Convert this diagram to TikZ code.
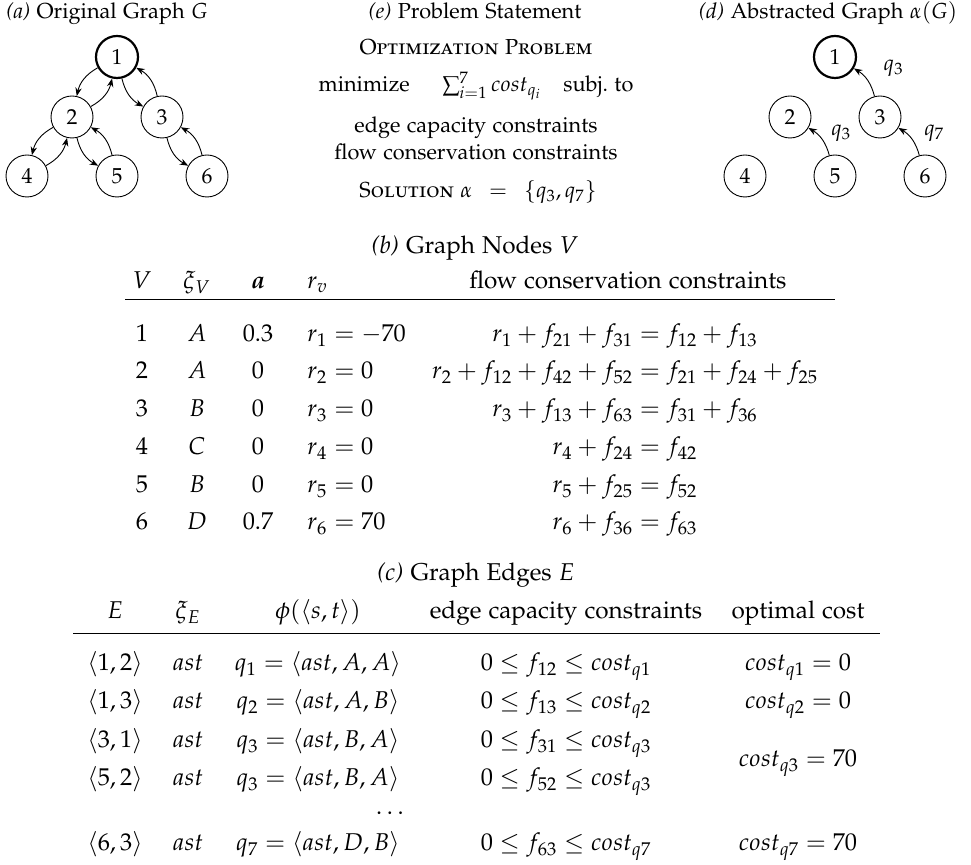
\documentclass[tikz,border=0pt]{standalone}
\usepackage[T1]{fontenc}
\usepackage[sc]{mathpazo}
\usepackage{amsmath}
\usetikzlibrary{arrows.meta}
\begin{document}
\begin{tikzpicture}[x=0.5pt,y=-0.5pt,
  gn/.style={circle,draw,line width=0.45pt,minimum size=21pt,inner sep=0pt,font=\fontsize{10.85}{13}\selectfont},
  gnt/.style={gn,line width=1.1pt},
  arr/.style={-{Stealth[length=4.2pt,width=3.2pt]},line width=0.45pt},
  captxt/.style={anchor=base,inner sep=0pt,font=\fontsize{10.85}{13}\selectfont},
  tb/.style={anchor=base,inner sep=0pt,font=\fontsize{12.15}{14.5}\selectfont},
  tbl/.style={tb,anchor=base west},
  lbl/.style={inner sep=0pt,anchor=west,font=\fontsize{10.85}{13}\selectfont},
  hrule/.style={line width=0.5pt}]
\useasboundingbox (0,0) rectangle (971,865);

% ---------- (a) original graph
\node[captxt] (capa) at (107,19) {\textit{(a)} Original Graph $G$};
\node[gnt] (a1) at (117,57) {1};
\node[gn] (a2) at (72,117) {2};
\node[gn] (a3) at (162,117) {3};
\node[gn] (a4) at (27,176) {4};
\node[gn] (a5) at (117,176) {5};
\node[gn] (a6) at (207,176) {6};
\draw[arr] (a1) to[bend right=24] (a2);
\draw[arr] (a2) to[bend right=24] (a1);
\draw[arr] (a1) to[bend right=24] (a3);
\draw[arr] (a3) to[bend right=24] (a1);
\draw[arr] (a2) to[bend right=24] (a4);
\draw[arr] (a4) to[bend right=24] (a2);
\draw[arr] (a2) to[bend right=24] (a5);
\draw[arr] (a5) to[bend right=24] (a2);
\draw[arr] (a3) to[bend right=24] (a6);
\draw[arr] (a6) to[bend right=24] (a3);

% ---------- (e) problem statement
\node[captxt] (cape) at (475,19) {\textit{(e)} Problem Statement};
\node[captxt] (optp) at (476,55) {\textsc{Optimization Problem}};
\node[captxt] (mini) at (476,92) {minimize\hspace{1.5em}$\sum_{i=1}^{7} cost_{q_i}$\quad subj.\ to};
\node[captxt] (edgc) at (476,133) {edge capacity constraints};
\node[captxt] (flwc) at (476,160) {flow conservation constraints};
\node[captxt] (solu) at (478,198) {\textsc{Solution} $\alpha\enspace=\enspace\{q_3,q_7\}$};

% ---------- (d) abstracted graph
\node[captxt] (capd) at (828,19) {\textit{(d)} Abstracted Graph $\alpha(G)$};
\node[gnt] (d1) at (835,57) {1};
\node[gn] (d2) at (790,117) {2};
\node[gn] (d3) at (880,117) {3};
\node[gn] (d4) at (745,176) {4};
\node[gn] (d5) at (835,176) {5};
\node[gn] (d6) at (925,176) {6};
\draw[arr] (d3) to[bend right=22] node[lbl,pos=0.5,xshift=8pt,yshift=6pt] (l31) {$q_3$} (d1);
\draw[arr] (d5) to[bend right=22] node[lbl,pos=0.5,xshift=4.5pt,yshift=3pt] (l52) {$q_3$} (d2);
\draw[arr] (d6) to[bend right=22] node[lbl,pos=0.5,xshift=6pt,yshift=3pt] (l63) {$q_7$} (d3);

% ---------- (b) graph nodes
\node[tb] (capb) at (475,254) {\textit{(b)} Graph Nodes $V$};
\node[tb] (hbV) at (142,289) {$V$};
\node[tb] (hbX) at (197,289) {$\xi_V$};
\node[tb] (hbA) at (258,289) {$\boldsymbol{a}$};
\node[tbl] (hbR) at (307,289) {$r_v$};
\node[tb] (hbF) at (628,289) {flow conservation constraints};
\coordinate (rbL) at (125,300);
\coordinate (rbR) at (835,300);
\draw[hrule] (rbL) -- (rbR);

\node[tb] (b1v) at (142,342) {1};
\node[tb] (b1x) at (197,342) {$A$};
\node[tb] (b1a) at (258,342) {0.3};
\node[tbl] (b1r) at (307,342) {$r_1=-70$};
\node[tb] (b1f) at (625,342) {$r_1+f_{21}+f_{31}=f_{12}+f_{13}$};

\node[tb] (b2v) at (142,379) {2};
\node[tb] (b2x) at (197,379) {$A$};
\node[tb] (b2a) at (258,379) {0};
\node[tbl] (b2r) at (307,379) {$r_2=0$};
\node[tb] (b2f) at (625,379) {$r_2+f_{12}+f_{42}+f_{52}=f_{21}+f_{24}+f_{25}$};

\node[tb] (b3v) at (142,417) {3};
\node[tb] (b3x) at (197,417) {$B$};
\node[tb] (b3a) at (258,417) {0};
\node[tbl] (b3r) at (307,417) {$r_3=0$};
\node[tb] (b3f) at (625,417) {$r_3+f_{13}+f_{63}=f_{31}+f_{36}$};

\node[tb] (b4v) at (142,455) {4};
\node[tb] (b4x) at (197,455) {$C$};
\node[tb] (b4a) at (258,455) {0};
\node[tbl] (b4r) at (307,455) {$r_4=0$};
\node[tb] (b4f) at (625,455) {$r_4+f_{24}=f_{42}$};

\node[tb] (b5v) at (142,493) {5};
\node[tb] (b5x) at (197,493) {$B$};
\node[tb] (b5a) at (258,493) {0};
\node[tbl] (b5r) at (307,493) {$r_5=0$};
\node[tb] (b5f) at (625,493) {$r_5+f_{25}=f_{52}$};

\node[tb] (b6v) at (142,530) {6};
\node[tb] (b6x) at (197,530) {$D$};
\node[tb] (b6a) at (258,530) {0.7};
\node[tbl] (b6r) at (307,530) {$r_6=70$};
\node[tb] (b6f) at (625,530) {$r_6+f_{36}=f_{63}$};

% ---------- (c) graph edges
\node[tb] (capc) at (476,581) {\textit{(c)} Graph Edges $E$};
\node[tb] (hcE) at (115,619) {$E$};
\node[tb] (hcX) at (188,619) {$\xi_E$};
\node[tb] (hcP) at (318,619) {$\phi(\langle s,t\rangle)$};
\node[tb] (hcC) at (566,619) {edge capacity constraints};
\node[tb] (hcO) at (798,619) {optimal cost};
\coordinate (rcL) at (73,634);
\coordinate (rcR) at (880,634);
\draw[hrule] (rcL) -- (rcR);

\node[tb] (c1e) at (115,671) {$\langle 1,2\rangle$};
\node[tb] (c1x) at (188,671) {$ast$};
\node[tb] (c1p) at (318,671) {$q_1=\langle ast,A,A\rangle$};
\node[tb] (c1c) at (566,671) {$0\leq f_{12}\leq cost_{q1}$};
\node[tb] (c1o) at (798,671) {$cost_{q1}=0$};

\node[tb] (c2e) at (115,709) {$\langle 1,3\rangle$};
\node[tb] (c2x) at (188,709) {$ast$};
\node[tb] (c2p) at (318,709) {$q_2=\langle ast,A,B\rangle$};
\node[tb] (c2c) at (566,709) {$0\leq f_{13}\leq cost_{q2}$};
\node[tb] (c2o) at (798,709) {$cost_{q2}=0$};

\node[tb] (c3e) at (115,748) {$\langle 3,1\rangle$};
\node[tb] (c3x) at (188,748) {$ast$};
\node[tb] (c3p) at (318,748) {$q_3=\langle ast,B,A\rangle$};
\node[tb] (c3c) at (566,748) {$0\leq f_{31}\leq cost_{q3}$};
\node[tb] (c3o) at (798,767) {$cost_{q3}=70$};

\node[tb] (c4e) at (115,786) {$\langle 5,2\rangle$};
\node[tb] (c4x) at (188,786) {$ast$};
\node[tb] (c4p) at (318,786) {$q_3=\langle ast,B,A\rangle$};
\node[tb] (c4c) at (566,786) {$0\leq f_{52}\leq cost_{q3}$};

\node[tb] (cdot) at (392,815) {$\dots$};

\node[tb] (c5e) at (115,851) {$\langle 6,3\rangle$};
\node[tb] (c5x) at (188,851) {$ast$};
\node[tb] (c5p) at (318,851) {$q_7=\langle ast,D,B\rangle$};
\node[tb] (c5c) at (566,851) {$0\leq f_{63}\leq cost_{q7}$};
\node[tb] (c5o) at (798,851) {$cost_{q7}=70$};
\end{tikzpicture}
\end{document}
